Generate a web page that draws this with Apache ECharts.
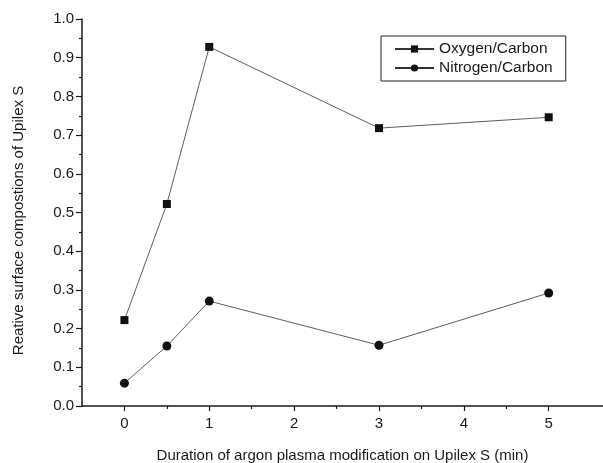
<!DOCTYPE html>
<html><head><meta charset="utf-8">
<script src="https://cdn.jsdelivr.net/npm/echarts@6/dist/echarts.min.js"></script>
<style>html,body{margin:0;padding:0;background:#fff}#c{width:603px;height:463px}</style>
</head><body><div id="c"></div>
<script>
const durations = [0, 0.5, 1, 3, 5];
const oxygenCarbon = [0.222, 0.522, 0.928, 0.718, 0.746];
const nitrogenCarbon = [0.059, 0.155, 0.271, 0.157, 0.292];
const xMajorTicks = [0, 1, 2, 3, 4, 5];
const xMinorTicks = [0.5, 1.5, 2.5, 3.5, 4.5];
const seriesNames = ['Oxygen/Carbon', 'Nitrogen/Carbon'];

const font = 'Liberation Sans, Arial, sans-serif';
const ink = '#1a1a1a';
const chart = echarts.init(document.getElementById('c'), null, {renderer: 'canvas'});
const pair = (xs, ys) => xs.map((x, i) => [x, ys[i]]);
const xBase = {
  type: 'value', min: -0.5, max: 5.64, position: 'bottom', splitLine: {show: false}
};
chart.setOption({
  animation: false,
  backgroundColor: '#fff',
  grid: {left: 82, right: 0, top: 19, bottom: 57, containLabel: false, outerBoundsMode: 'none'},
  legend: {
    left: 381, top: 36, orient: 'vertical',
    padding: [5, 13, 5, 13],
    borderColor: '#222', borderWidth: 1, itemGap: 3,
    itemWidth: 39, itemHeight: 9,
    textStyle: {fontFamily: font, fontSize: 15.5, color: ink},
    data: seriesNames
  },
  xAxis: [
    Object.assign({}, xBase, {
      name: 'Duration of argon plasma modification on Upilex S (min)',
      nameLocation: 'middle', nameGap: 42,
      nameTextStyle: {fontFamily: font, fontSize: 15, color: ink},
      axisLine: {onZero: false, lineStyle: {color: ink, width: 1.5}},
      axisTick: {customValues: xMajorTicks, length: 5, lineStyle: {color: ink, width: 1.2}},
      axisLabel: {customValues: xMajorTicks, margin: 10, fontFamily: font, fontSize: 15, color: ink}
    }),
    Object.assign({}, xBase, {
      axisLine: {show: false},
      axisTick: {customValues: xMinorTicks, length: 3, lineStyle: {color: ink, width: 1.2}},
      axisLabel: {show: false}
    })
  ],
  yAxis: {
    type: 'value', min: 0, max: 1, interval: 0.1,
    name: 'Reative surface compostions of Upilex S',
    nameLocation: 'middle', nameGap: 56,
    nameTextStyle: {fontFamily: font, fontSize: 15, color: ink, padding: [0, 16, 0, 0]},
    axisLine: {show: true, onZero: false, lineStyle: {color: ink, width: 1.5}},
    axisTick: {show: true, length: 6, lineStyle: {color: ink, width: 1.2}},
    minorTick: {show: true, splitNumber: 2, length: 3, lineStyle: {color: ink, width: 1.2}},
    splitLine: {show: false},
    axisLabel: {margin: 8, fontFamily: font, fontSize: 15, color: ink, formatter: v => v.toFixed(1)}
  },
  series: [
    {
      name: seriesNames[0], type: 'line', xAxisIndex: 0,
      data: pair(durations, oxygenCarbon),
      symbol: 'rect', symbolSize: 8,
      lineStyle: {color: '#333', width: 0.8},
      itemStyle: {color: '#111'}
    },
    {
      name: seriesNames[1], type: 'line', xAxisIndex: 0,
      data: pair(durations, nitrogenCarbon),
      symbol: 'circle', symbolSize: 9,
      lineStyle: {color: '#333', width: 0.8},
      itemStyle: {color: '#111'}
    }
  ]
});
</script></body></html>
